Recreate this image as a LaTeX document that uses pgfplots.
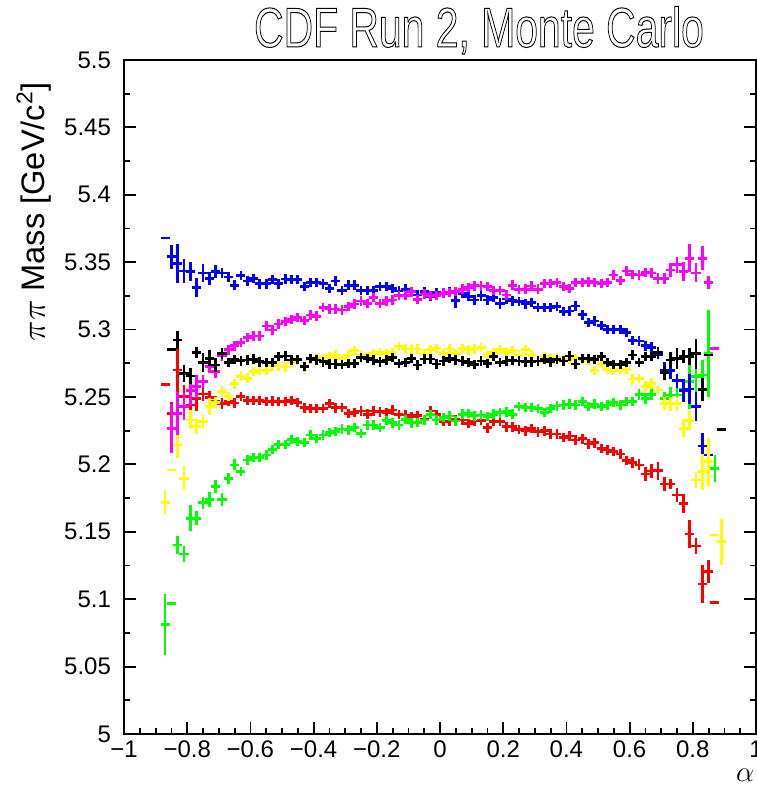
\documentclass[border=0pt]{standalone}
\usepackage{pgfplots}
\pgfplotsset{compat=1.18}
\usepackage{pgfplotstable}
\usepackage{graphicx}
\usepackage{fontspec}
\setmainfont{Liberation Sans}

\definecolor{rootblue}{RGB}{0,0,255}
\definecolor{rootmag}{RGB}{255,0,255}
\definecolor{rootyel}{RGB}{255,255,0}
\definecolor{rootred}{RGB}{255,0,0}
\definecolor{rootgreen}{RGB}{0,255,0}

% columns: alpha bin centre, mean mass, error
\pgfplotstableread[row sep=\\]{
a m e\\
-0.87 5.368 0\\ -0.85 5.354 0.008\\ -0.83 5.349 0.0136\\ -0.81 5.3435 0.008\\ -0.79 5.343 0.006\\ -0.77 5.331 0.006\\
-0.75 5.342 0.0055\\ -0.73 5.338 0.004\\ -0.71 5.343 0.004\\ -0.69 5.342 0.003\\ -0.67 5.339 0.003\\ -0.65 5.333 0.0025\\
-0.63 5.340 0.0025\\ -0.61 5.336 0.0025\\ -0.59 5.338 0.0025\\ -0.57 5.334 0.0025\\ -0.55 5.334 0.0025\\ -0.53 5.337 0.0025\\
-0.51 5.334 0.0025\\ -0.49 5.3375 0.0025\\ -0.47 5.337 0.0025\\ -0.45 5.337 0.0025\\ -0.43 5.332 0.0025\\ -0.41 5.335 0.0025\\
-0.39 5.335 0.0025\\ -0.37 5.334 0.0025\\ -0.35 5.3306 0.0025\\ -0.33 5.336 0.0025\\ -0.31 5.329 0.0025\\ -0.29 5.333 0.0025\\
-0.27 5.333 0.0025\\ -0.25 5.329 0.0025\\ -0.23 5.329 0.0025\\ -0.21 5.329 0.0025\\ -0.19 5.332 0.0025\\ -0.17 5.332 0.0025\\
-0.15 5.3306 0.0025\\ -0.13 5.3286 0.0025\\ -0.11 5.330 0.0025\\ -0.09 5.328 0.0025\\ -0.07 5.3257 0.0025\\ -0.05 5.328 0.0025\\
-0.03 5.3244 0.0025\\ -0.01 5.3274 0.0025\\ 0.01 5.327 0.0025\\ 0.03 5.3277 0.0025\\ 0.05 5.3214 0.004\\ 0.07 5.327 0.0025\\
0.09 5.3244 0.0025\\ 0.11 5.322 0.0025\\ 0.13 5.325 0.0025\\ 0.15 5.322 0.0025\\ 0.17 5.324 0.0025\\ 0.19 5.3195 0.003\\
0.21 5.3227 0.0025\\ 0.23 5.3214 0.0025\\ 0.25 5.3207 0.0025\\ 0.27 5.319 0.0025\\ 0.29 5.320 0.0025\\ 0.31 5.3165 0.0025\\
0.33 5.3165 0.0025\\ 0.35 5.3165 0.0025\\ 0.37 5.317 0.0025\\ 0.39 5.3133 0.0025\\ 0.41 5.3138 0.0025\\ 0.43 5.3175 0.0025\\
0.45 5.311 0.0025\\ 0.47 5.3054 0.0025\\ 0.49 5.3064 0.0025\\ 0.51 5.303 0.0025\\ 0.53 5.300 0.0025\\ 0.55 5.300 0.0025\\
0.57 5.300 0.0025\\ 0.59 5.2977 0.0025\\ 0.61 5.2918 0.0025\\ 0.63 5.2915 0.0025\\ 0.65 5.288 0.0025\\ 0.67 5.287 0.0025\\
0.69 5.2817 0.0025\\ 0.71 5.270 0.005\\ 0.73 5.2695 0.005\\ 0.75 5.262 0.004\\ 0.77 5.2547 0.0074\\ 0.79 5.256 0.010\\
0.81 5.243 0.010\\ 0.83 5.2136 0.0087\\ 0.85 5.207 0\\
}\tblue

\pgfplotstableread[row sep=\\]{
a m e\\
-0.85 5.2268 0.017\\ -0.83 5.238 0.015\\ -0.81 5.243 0.0087\\ -0.79 5.255 0.010\\ -0.77 5.2577 0.0074\\
-0.75 5.2614 0.004\\ -0.73 5.2725 0.004\\ -0.71 5.2688 0.004\\ -0.69 5.281 0.003\\ -0.67 5.285 0.0025\\ -0.65 5.288 0.0025\\
-0.63 5.2905 0.0025\\ -0.61 5.294 0.0025\\ -0.59 5.2953 0.0025\\ -0.57 5.2953 0.0025\\ -0.55 5.3027 0.0025\\ -0.53 5.2997 0.0025\\
-0.51 5.3042 0.0025\\ -0.49 5.3059 0.0025\\ -0.47 5.3076 0.0025\\ -0.45 5.3091 0.0025\\ -0.43 5.3066 0.0025\\ -0.41 5.3108 0.0025\\
-0.39 5.310 0.0025\\ -0.37 5.3165 0.0025\\ -0.35 5.3153 0.0025\\ -0.33 5.3153 0.0025\\ -0.31 5.3145 0.0025\\ -0.29 5.317 0.0025\\
-0.27 5.319 0.0025\\ -0.25 5.3212 0.0025\\ -0.23 5.3195 0.0025\\ -0.21 5.3237 0.0025\\ -0.19 5.3195 0.0025\\ -0.17 5.3214 0.0025\\
-0.15 5.322 0.0025\\ -0.13 5.3252 0.0025\\ -0.11 5.3252 0.0025\\ -0.09 5.328 0.0025\\ -0.07 5.3224 0.0025\\ -0.05 5.3264 0.0025\\
-0.03 5.3252 0.0025\\ -0.01 5.3252 0.0025\\ 0.01 5.327 0.0025\\ 0.03 5.3275 0.0025\\ 0.05 5.3284 0.0025\\ 0.07 5.330 0.0025\\
0.09 5.3311 0.0025\\ 0.11 5.3325 0.0025\\ 0.13 5.3323 0.0025\\ 0.15 5.332 0.0025\\ 0.17 5.329 0.0025\\ 0.19 5.329 0.0025\\
0.21 5.3257 0.0025\\ 0.23 5.333 0.0025\\ 0.25 5.3297 0.0025\\ 0.27 5.330 0.0025\\ 0.29 5.3323 0.0025\\ 0.31 5.330 0.0025\\
0.33 5.3343 0.0025\\ 0.35 5.3343 0.0025\\ 0.37 5.335 0.0025\\ 0.39 5.332 0.0025\\ 0.41 5.3306 0.0025\\ 0.43 5.335 0.0025\\
0.45 5.335 0.0025\\ 0.47 5.3355 0.0025\\ 0.49 5.335 0.0025\\ 0.51 5.3343 0.0025\\ 0.53 5.335 0.0025\\ 0.55 5.3405 0.0025\\
0.57 5.3363 0.0025\\ 0.59 5.3435 0.0025\\ 0.61 5.341 0.0025\\ 0.63 5.3405 0.0025\\ 0.65 5.3425 0.0025\\ 0.67 5.342 0.0025\\
0.69 5.338 0.003\\ 0.71 5.338 0.003\\ 0.73 5.3442 0.004\\ 0.75 5.348 0.005\\ 0.77 5.343 0.006\\ 0.79 5.353 0.0093\\
0.81 5.342 0.006\\ 0.83 5.353 0.008\\ 0.85 5.335 0.004\\ 0.87 5.286 0\\
}\tmag

\pgfplotstableread[row sep=\\]{
a m e\\
-0.85 5.285 0\\ -0.83 5.2923 0.0056\\ -0.81 5.2675 0.005\\ -0.79 5.2656 0.005\\ -0.77 5.2829 0.003\\
-0.75 5.2755 0.006\\ -0.73 5.2787 0.005\\ -0.71 5.2738 0.004\\ -0.69 5.2824 0.003\\ -0.67 5.2755 0.0025\\ -0.65 5.2777 0.0025\\
-0.63 5.2768 0.0025\\ -0.61 5.2774 0.0025\\ -0.59 5.2782 0.0025\\ -0.57 5.2761 0.0025\\ -0.55 5.2756 0.0025\\ -0.53 5.2755 0.0025\\
-0.51 5.280 0.0025\\ -0.49 5.2804 0.0025\\ -0.47 5.2774 0.0025\\ -0.45 5.2777 0.0025\\ -0.43 5.2725 0.0025\\ -0.41 5.2787 0.0025\\
-0.39 5.2774 0.0025\\ -0.37 5.2761 0.0025\\ -0.35 5.2745 0.0025\\ -0.33 5.2745 0.0025\\ -0.31 5.2742 0.0025\\ -0.29 5.275 0.0025\\
-0.27 5.275 0.0025\\ -0.25 5.2792 0.0025\\ -0.23 5.2787 0.0025\\ -0.21 5.2774 0.0025\\ -0.19 5.2761 0.0025\\ -0.17 5.2774 0.0025\\
-0.15 5.2792 0.0025\\ -0.13 5.275 0.0025\\ -0.11 5.2757 0.0025\\ -0.09 5.2787 0.0025\\ -0.07 5.2738 0.0025\\ -0.05 5.2782 0.0025\\
-0.03 5.2782 0.0025\\ -0.01 5.2745 0.0025\\ 0.01 5.2767 0.0025\\ 0.03 5.2787 0.0025\\ 0.05 5.2774 0.0025\\ 0.07 5.2767 0.0025\\
0.09 5.2757 0.0025\\ 0.11 5.2742 0.0025\\ 0.13 5.2767 0.0025\\ 0.15 5.275 0.0025\\ 0.17 5.280 0.0025\\ 0.19 5.2757 0.0025\\
0.21 5.2767 0.0025\\ 0.23 5.277 0.0025\\ 0.25 5.2767 0.0025\\ 0.27 5.2761 0.0025\\ 0.29 5.2761 0.0025\\ 0.31 5.2767 0.0025\\
0.33 5.278 0.0025\\ 0.35 5.2761 0.0025\\ 0.37 5.2779 0.0025\\ 0.39 5.2767 0.0025\\ 0.41 5.2804 0.0025\\ 0.43 5.2745 0.0025\\
0.45 5.2787 0.0025\\ 0.47 5.2787 0.0025\\ 0.49 5.2779 0.0025\\ 0.51 5.280 0.0025\\ 0.53 5.2755 0.0025\\ 0.55 5.2742 0.0025\\
0.57 5.2742 0.0025\\ 0.59 5.2755 0.0025\\ 0.61 5.2812 0.0025\\ 0.63 5.2755 0.0025\\ 0.65 5.280 0.0025\\ 0.67 5.280 0.0025\\
0.69 5.2829 0.003\\ 0.71 5.268 0.004\\ 0.73 5.2774 0.005\\ 0.75 5.2787 0.0068\\ 0.77 5.280 0.004\\ 0.79 5.280 0.005\\
0.81 5.282 0.010\\ 0.83 5.2557 0.0074\\ 0.85 5.2812 0\\ 0.89 5.226 0\\
}\tblack

\pgfplotstableread[row sep=\\]{
a m e\\
-0.87 5.1719 0.008\\ -0.85 5.1958 0\\ -0.83 5.2144 0.0087\\ -0.81 5.1897 0.008\\ -0.79 5.233 0.006\\ -0.77 5.228 0.0045\\
-0.75 5.2317 0.004\\ -0.73 5.243 0.005\\ -0.71 5.2458 0.003\\ -0.69 5.2542 0.003\\ -0.67 5.2502 0.0025\\ -0.65 5.2598 0.0025\\
-0.63 5.2654 0.0025\\ -0.61 5.264 0.0025\\ -0.59 5.2688 0.0025\\ -0.57 5.270 0.0025\\ -0.55 5.2696 0.0025\\ -0.53 5.273 0.0025\\
-0.51 5.273 0.0025\\ -0.49 5.2722 0.0025\\ -0.47 5.2755 0.0025\\ -0.45 5.2774 0.0025\\ -0.43 5.2722 0.0025\\ -0.41 5.2779 0.0025\\
-0.39 5.2792 0.0025\\ -0.37 5.2787 0.0025\\ -0.35 5.2802 0.0025\\ -0.33 5.2812 0.0025\\ -0.31 5.2787 0.0025\\ -0.29 5.2812 0.0025\\
-0.27 5.2844 0.0025\\ -0.25 5.2807 0.0025\\ -0.23 5.280 0.0025\\ -0.21 5.2824 0.0025\\ -0.19 5.2829 0.0025\\ -0.17 5.2824 0.0025\\
-0.15 5.2829 0.0025\\ -0.13 5.2873 0.0025\\ -0.11 5.2856 0.0025\\ -0.09 5.2856 0.0025\\ -0.07 5.2856 0.0025\\ -0.05 5.2817 0.0025\\
-0.03 5.2854 0.0025\\ -0.01 5.2861 0.0025\\ 0.01 5.282 0.0025\\ 0.03 5.2856 0.0025\\ 0.05 5.2824 0.0025\\ 0.07 5.2861 0.0025\\
0.09 5.285 0.0025\\ 0.11 5.2856 0.0025\\ 0.13 5.2866 0.0025\\ 0.15 5.2807 0.0025\\ 0.17 5.2831 0.0025\\ 0.19 5.285 0.0025\\
0.21 5.2831 0.0025\\ 0.23 5.2844 0.0025\\ 0.25 5.2812 0.0025\\ 0.27 5.285 0.0025\\ 0.29 5.2812 0.0025\\ 0.31 5.2762 0.0025\\
0.33 5.2802 0.0025\\ 0.35 5.2787 0.0025\\ 0.37 5.2792 0.0025\\ 0.39 5.277 0.0025\\ 0.41 5.2779 0.0025\\ 0.43 5.2787 0.0025\\
0.45 5.2779 0.0025\\ 0.47 5.277 0.0025\\ 0.49 5.2695 0.0025\\ 0.51 5.275 0.0025\\ 0.53 5.2705 0.0025\\ 0.55 5.2695 0.0025\\
0.57 5.2705 0.0025\\ 0.59 5.2705 0.0025\\ 0.61 5.2633 0.0025\\ 0.63 5.2638 0.0025\\ 0.65 5.2577 0.003\\ 0.67 5.2602 0.003\\
0.69 5.2552 0.003\\ 0.71 5.2453 0.004\\ 0.73 5.245 0.004\\ 0.75 5.245 0.004\\ 0.77 5.2268 0.0056\\ 0.79 5.2325 0.006\\
0.81 5.1884 0.005\\ 0.83 5.1946 0.0124\\ 0.85 5.202 0.0167\\ 0.87 5.1476 0\\ 0.89 5.1427 0.016\\
}\tyel

\pgfplotstableread[row sep=\\]{
a m e\\
-0.87 5.2595 0\\ -0.85 5.238 0.007\\ -0.83 5.270 0.020\\ -0.81 5.2502 0.0074\\ -0.79 5.244 0.007\\ -0.77 5.249 0.008\\
-0.75 5.2522 0.004\\ -0.73 5.2495 0.004\\ -0.71 5.2465 0.003\\ -0.69 5.2453 0.003\\ -0.67 5.247 0.0025\\ -0.65 5.2455 0.0025\\
-0.63 5.2502 0.0025\\ -0.61 5.2473 0.0025\\ -0.59 5.2473 0.0025\\ -0.57 5.2473 0.0025\\ -0.55 5.2465 0.0025\\ -0.53 5.247 0.0025\\
-0.51 5.2465 0.0025\\ -0.49 5.2465 0.0025\\ -0.47 5.2473 0.0025\\ -0.45 5.246 0.0025\\ -0.43 5.242 0.0025\\ -0.41 5.2416 0.0025\\
-0.39 5.2416 0.0025\\ -0.37 5.2416 0.0025\\ -0.35 5.2453 0.0025\\ -0.33 5.242 0.0025\\ -0.31 5.2423 0.0025\\ -0.29 5.2378 0.0025\\
-0.27 5.2386 0.0025\\ -0.25 5.2396 0.0025\\ -0.23 5.2373 0.0025\\ -0.21 5.2396 0.0025\\ -0.19 5.239 0.0025\\ -0.17 5.2384 0.0025\\
-0.15 5.2403 0.0025\\ -0.13 5.2371 0.0025\\ -0.11 5.2366 0.0025\\ -0.09 5.2354 0.0025\\ -0.07 5.236 0.0025\\ -0.05 5.2334 0.0025\\
-0.03 5.2396 0.0025\\ -0.01 5.2371 0.0025\\ 0.01 5.2317 0.0025\\ 0.03 5.2322 0.0025\\ 0.05 5.2334 0.0025\\ 0.07 5.2329 0.0025\\
0.09 5.2304 0.0025\\ 0.11 5.2322 0.0025\\ 0.13 5.2324 0.0025\\ 0.15 5.2272 0.0025\\ 0.17 5.2317 0.0025\\ 0.19 5.2317 0.0025\\
0.21 5.2279 0.0025\\ 0.23 5.2279 0.0025\\ 0.25 5.226 0.0025\\ 0.27 5.2248 0.0025\\ 0.29 5.2266 0.0025\\ 0.31 5.2242 0.0025\\
0.33 5.2249 0.0025\\ 0.35 5.2226 0.0025\\ 0.37 5.2226 0.0025\\ 0.39 5.2201 0.0025\\ 0.41 5.221 0.0025\\ 0.43 5.2181 0.0025\\
0.45 5.219 0.0025\\ 0.47 5.2151 0.0025\\ 0.49 5.216 0.0025\\ 0.51 5.2119 0.0025\\ 0.53 5.2107 0.0025\\ 0.55 5.2095 0.0025\\
0.57 5.2077 0.0025\\ 0.59 5.2028 0.0025\\ 0.61 5.2013 0.003\\ 0.63 5.1996 0.003\\ 0.65 5.1929 0.004\\ 0.67 5.1951 0.004\\
0.69 5.1954 0.0056\\ 0.71 5.1855 0.004\\ 0.73 5.1855 0.003\\ 0.75 5.1773 0.004\\ 0.77 5.1711 0.006\\ 0.79 5.1484 0.0093\\
0.81 5.1395 0.005\\ 0.83 5.1113 0.013\\ 0.85 5.1204 0.0074\\ 0.87 5.0977 0\\
}\tred

\pgfplotstableread[row sep=\\]{
a m e\\
-0.87 5.0814 0.0216\\ -0.85 5.097 0\\ -0.83 5.1402 0.0057\\ -0.81 5.1335 0.0047\\ -0.79 5.160 0.0087\\ -0.77 5.160 0.0042\\
-0.75 5.1716 0.0035\\ -0.73 5.1741 0.0047\\ -0.71 5.1835 0.0037\\ -0.69 5.1741 0.0037\\ -0.67 5.1897 0.003\\ -0.65 5.1996 0.003\\
-0.63 5.1948 0.0025\\ -0.61 5.2033 0.0025\\ -0.59 5.205 0.0025\\ -0.57 5.205 0.0025\\ -0.55 5.207 0.0025\\ -0.53 5.2112 0.0025\\
-0.51 5.2149 0.0025\\ -0.49 5.2149 0.0025\\ -0.47 5.2186 0.0025\\ -0.45 5.2169 0.0025\\ -0.43 5.2163 0.0025\\ -0.41 5.2218 0.0025\\
-0.39 5.2193 0.0025\\ -0.37 5.2218 0.0025\\ -0.35 5.2237 0.0025\\ -0.33 5.2244 0.0025\\ -0.31 5.2263 0.0025\\ -0.29 5.2255 0.0025\\
-0.27 5.2275 0.0025\\ -0.25 5.223 0.0025\\ -0.23 5.2292 0.0025\\ -0.21 5.2292 0.0025\\ -0.19 5.2273 0.0025\\ -0.17 5.2324 0.0025\\
-0.15 5.2309 0.0025\\ -0.13 5.2292 0.0025\\ -0.11 5.2334 0.0025\\ -0.09 5.2309 0.0025\\ -0.07 5.2312 0.0025\\ -0.05 5.2329 0.0025\\
-0.03 5.2371 0.0025\\ -0.01 5.2329 0.0025\\ 0.01 5.2347 0.0025\\ 0.03 5.2359 0.0025\\ 0.05 5.2322 0.0025\\ 0.07 5.2373 0.0025\\
0.09 5.2378 0.0025\\ 0.11 5.2361 0.0025\\ 0.13 5.2366 0.0025\\ 0.15 5.2354 0.0025\\ 0.17 5.2373 0.0025\\ 0.19 5.2383 0.0025\\
0.21 5.239 0.0025\\ 0.23 5.2373 0.0025\\ 0.25 5.2428 0.0025\\ 0.27 5.2423 0.0025\\ 0.29 5.2421 0.0025\\ 0.31 5.2416 0.0025\\
0.33 5.2386 0.0025\\ 0.35 5.2416 0.0025\\ 0.37 5.2433 0.0025\\ 0.39 5.2441 0.0025\\ 0.41 5.2448 0.0025\\ 0.43 5.2441 0.0025\\
0.45 5.2465 0.0025\\ 0.47 5.2428 0.0025\\ 0.49 5.2448 0.0025\\ 0.51 5.2428 0.0025\\ 0.53 5.2441 0.0025\\ 0.55 5.2458 0.0025\\
0.57 5.2441 0.0025\\ 0.59 5.2465 0.0025\\ 0.61 5.2465 0.0025\\ 0.63 5.252 0.003\\ 0.65 5.249 0.003\\ 0.67 5.252 0.003\\
0.69 5.2552 0.003\\ 0.71 5.249 0.004\\ 0.73 5.2515 0.005\\ 0.75 5.2515 0.004\\ 0.77 5.256 0.005\\ 0.79 5.2614 0.019\\
0.81 5.2651 0.0124\\ 0.83 5.2663 0.010\\ 0.85 5.2824 0.031\\ 0.87 5.197 0.0093\\
}\tgreen

\pgfplotsset{
  bins/.style={draw=none, mark=none, forget plot,
    error bars/.cd, x dir=both, x fixed=0.01, y dir=both, y explicit,
    error mark=none, error bar style={draw=#1, solid, line width=1.4pt, line cap=rect}},
}

\begin{document}
\begin{tikzpicture}
\begin{axis}[
  name=ax, scale only axis, width=316pt, height=337pt, clip=false,
  xmin=-1, xmax=1, ymin=5, ymax=5.5,
  xtick={-1,-0.8,-0.6,-0.4,-0.2,0,0.2,0.4,0.6,0.8,1},
  xticklabels={−1,−0.8,−0.6,−0.4,−0.2,0,0.2,0.4,0.6,0.8,1},
  minor x tick num=3,
  ytick={5,5.05,5.1,5.15,5.2,5.25,5.3,5.35,5.4,5.45,5.5},
  yticklabels={5,5.05,5.1,5.15,5.2,5.25,5.3,5.35,5.4,5.45,5.5},
  minor y tick num=1,
  tick align=inside, xtick pos=left, ytick pos=both,
  major tick length=6pt, minor tick length=3pt,
  every tick/.style={black, line width=0.9pt},
  axis line style={line width=1pt},
  ticklabel style={font=\fontsize{12}{14}\selectfont},
  yticklabel style={xshift=-3pt},
]
\addplot[bins=rootred] table[x=a, y=m, y error=e] {\tred};
\addplot[bins=rootgreen] table[x=a, y=m, y error=e] {\tgreen};
\addplot[bins=rootblue] table[x=a, y=m, y error=e] {\tblue};
\addplot[bins=rootyel] table[x=a, y=m, y error=e] {\tyel};
\addplot[bins=rootmag] table[x=a, y=m, y error=e] {\tmag};
\addplot[bins=black] table[x=a, y=m, y error=e] {\tblack};

\node[anchor=base, line width=0.5pt] at ([yshift=6.5pt]rel axis cs:0.5617,1)
  {\special{pdf:code 1 Tr}\scalebox{0.73}[1]{\fontsize{28}{30}\selectfont CDF Run 2, Monte Carlo}\special{pdf:code 0 Tr}};
\node[rotate=90, anchor=base east, font=\fontsize{16.3}{18}\selectfont]
  at ([shift={(-39.5pt,-7.5pt)}]rel axis cs:0,1) {$\pi\pi$ Mass [GeV/c\textsuperscript{2}]};
\node[font=\fontsize{14}{16}\selectfont] at ([yshift=-20.5pt]rel axis cs:0.983,0) {$\alpha$};
\end{axis}
\pgfresetboundingbox
\path ([shift={(-62pt,-28.5pt)}]ax.south west) rectangle ([shift={(0.5pt,30pt)}]ax.north east);
\end{tikzpicture}
\end{document}
